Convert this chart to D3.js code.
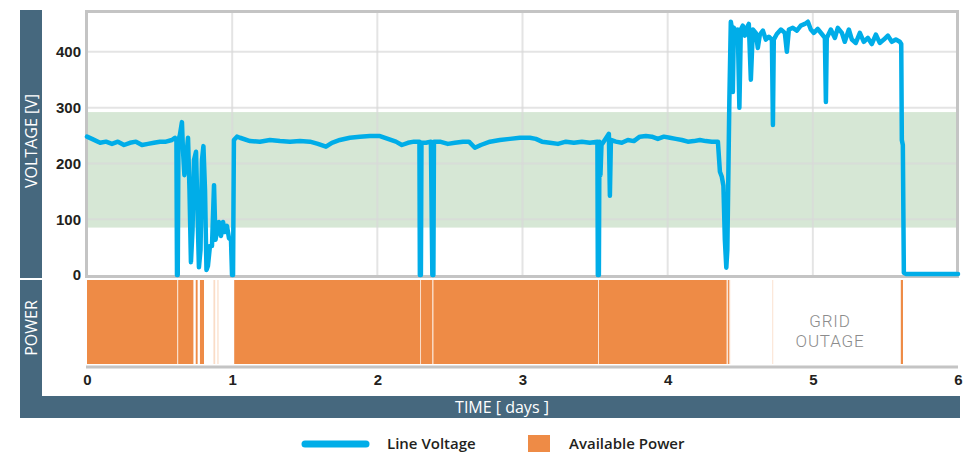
<!DOCTYPE html>
<head>
<meta charset="utf-8">
<script src="https://d3js.org/d3.v7.min.js"></script>
<style>
body { margin:0; background:#fff; }
svg { font-family:'Open Sans', sans-serif; }
.axis text { font-size:15px; font-weight:600; fill:#231f20; }
.axis path, .axis line { display:none; }
.band-label { fill:#fff; font-size:16px; }
.legend text { font-size:15px; font-weight:600; fill:#231f20; }
</style>
</head>
<body>
<div id="chart"></div>
<script>
// line voltage readings, [day, volts]
var voltageReadings = [
  [0,248],[0.034,244],[0.090,237],[0.131,239],[0.172,235],[0.213,239],[0.255,233],[0.296,237],
  [0.337,239],[0.379,233],[0.420,235],[0.461,237],[0.503,239],[0.544,239],[0.585,242],[0.606,246],
  [0.616,240],[0.620,0],[0.625,0],[0.630,242],[0.640,251],[0.654,274],[0.661,224],[0.671,179],
  [0.682,206],[0.696,246],[0.706,152],[0.716,23],[0.727,81],[0.737,206],[0.751,221],[0.761,117],
  [0.771,14],[0.782,45],[0.792,206],[0.802,231],[0.813,152],[0.823,9],[0.833,16],[0.847,52],
  [0.861,52],[0.875,161],[0.885,63],[0.895,77],[0.909,95],[0.923,70],[0.937,95],[0.950,77],
  [0.964,88],[0.978,66],[0.992,63],[0.999,0],[1.006,0],[1.012,242],[1.033,248],
  [1.054,246],[1.123,240],[1.191,239],[1.260,242],[1.329,240],[1.398,239],[1.467,240],[1.536,239],
  [1.591,235],[1.646,230],[1.687,237],[1.742,242],[1.811,246],[1.880,248],[1.949,249],[2.018,249],
  [2.073,244],[2.128,239],[2.169,233],[2.211,237],[2.252,239],[2.290,239],[2.293,0],[2.300,0],
  [2.304,237],[2.335,237],[2.369,239],[2.379,0],[2.386,0],[2.390,239],[2.431,239],[2.486,235],
  [2.534,237],[2.590,239],[2.631,239],[2.672,228],[2.713,233],[2.776,239],[2.844,242],[2.913,244],
  [2.982,246],[3.051,246],[3.092,244],[3.134,239],[3.189,237],[3.244,235],[3.299,239],[3.354,237],
  [3.409,239],[3.464,237],[3.516,239],[3.519,0],[3.526,0],[3.530,239],[3.537,179],[3.544,233],
  [3.567,242],[3.595,253],[3.602,142],[3.609,242],[3.643,239],[3.684,237],[3.726,242],[3.767,240],
  [3.808,248],[3.850,249],[3.891,248],[3.932,244],[3.974,248],[4.015,246],[4.056,244],[4.098,242],
  [4.139,239],[4.180,240],[4.222,242],[4.263,240],[4.304,239],[4.346,239],[4.360,185],[4.373,176],
  [4.384,160],[4.394,63],[4.404,13],[4.411,45],[4.418,179],[4.425,314],[4.435,454],[4.442,443],
  [4.449,328],[4.456,443],[4.470,436],[4.483,440],[4.494,300],[4.504,440],[4.518,447],[4.532,429],
  [4.545,443],[4.559,450],[4.573,350],[4.587,440],[4.607,434],[4.621,407],[4.635,431],[4.656,438],
  [4.676,422],[4.697,427],[4.718,422],[4.725,269],[4.731,422],[4.752,432],[4.780,440],[4.807,434],
  [4.821,400],[4.835,440],[4.862,443],[4.890,438],[4.917,447],[4.945,450],[4.966,454],[4.986,440],
  [5.007,434],[5.034,441],[5.062,432],[5.083,425],[5.090,310],[5.096,425],[5.124,440],[5.152,425],
  [5.172,443],[5.200,434],[5.220,418],[5.248,440],[5.269,422],[5.296,416],[5.324,434],[5.351,418],
  [5.379,425],[5.406,414],[5.434,431],[5.461,416],[5.489,422],[5.517,429],[5.544,418],[5.572,422],
  [5.599,418],[5.609,414],[5.613,242],[5.620,233],[5.627,4],[5.640,2],[6.0,2]
];

// available power intervals [start day, end day, level]
var powerIntervals = [
  [0,0.622,1],[0.628,0.733,1],[0.749,0.762,1],[0.778,0.806,1],
  [0.871,0.883,0.3],[0.898,0.906,0.3],
  [1.014,2.296,1],[2.301,2.379,1],[2.386,3.521,1],[3.526,4.406,1],
  [4.408,4.414,0.3],[4.416,4.424,1],[4.425,4.431,0.3],[4.721,4.727,0.3],[5.606,5.621,1]
];

var acceptableRange = [85, 292];
var voltTicks = [0, 100, 200, 300, 400];
var dayTicks = [0, 1, 2, 3, 4, 5, 6];
var outageLabel = ["GRID", "OUTAGE"];

var W = 968, H = 452;
var svg = d3.select("#chart").append("svg").attr("width", W).attr("height", H);

var x = d3.scaleLinear().domain([0, 6]).range([87, 958]);
var y = d3.scaleLinear().domain([0, 475]).range([275, 10]);
var powerTop = 280, powerBottom = 364;

// side and bottom bands
svg.append("rect").attr("x", 20).attr("y", 10).attr("width", 22).attr("height", 268).attr("fill", "#46687e");
svg.append("rect").attr("x", 20).attr("y", 280).attr("width", 22).attr("height", 138).attr("fill", "#46687e");
svg.append("rect").attr("x", 20).attr("y", 396).attr("width", 940).attr("height", 22).attr("fill", "#46687e");

svg.append("text").attr("class", "band-label")
  .attr("transform", "translate(37,141) rotate(-90)")
  .attr("text-anchor", "middle").text("VOLTAGE [V]");
svg.append("text").attr("class", "band-label")
  .attr("transform", "translate(37,328) rotate(-90)")
  .attr("text-anchor", "middle").text("POWER");
svg.append("text").attr("class", "band-label")
  .attr("x", 502).attr("y", 413).attr("text-anchor", "middle").text("TIME [ days ]");

// acceptable voltage band
svg.append("rect")
  .attr("x", x(0)).attr("width", x(6) - x(0))
  .attr("y", y(acceptableRange[1])).attr("height", y(acceptableRange[0]) - y(acceptableRange[1]))
  .attr("fill", "#d6e7d5");

// gridlines
svg.append("g").selectAll("line").data(voltTicks.slice(1)).enter().append("line")
  .attr("x1", x(0)).attr("x2", x(6))
  .attr("y1", function(d){ return y(d); }).attr("y2", function(d){ return y(d); })
  .attr("stroke", "#d8d8d8").attr("stroke-opacity", 0.7).attr("stroke-width", 2);
svg.append("g").selectAll("line").data(dayTicks.slice(1, 6)).enter().append("line")
  .attr("y1", y(475)).attr("y2", y(0))
  .attr("x1", function(d){ return x(d); }).attr("x2", function(d){ return x(d); })
  .attr("stroke", "#d8d8d8").attr("stroke-opacity", 0.7).attr("stroke-width", 2);

// frame of the voltage panel
svg.append("rect")
  .attr("x", x(0) - 0.5).attr("y", y(475) + 1.5)
  .attr("width", x(6) - x(0)).attr("height", y(0) - y(475))
  .attr("fill", "none").attr("stroke", "#c4c4c4").attr("stroke-width", 3);

// power bars
svg.append("g").selectAll("rect").data(powerIntervals).enter().append("rect")
  .attr("x", function(d){ return x(d[0]); })
  .attr("width", function(d){ return x(d[1]) - x(d[0]); })
  .attr("y", powerTop).attr("height", powerBottom - powerTop)
  .attr("fill", "#ee8b46")
  .attr("fill-opacity", function(d){ return d[2]; });

svg.append("line")
  .attr("x1", x(0) - 1).attr("x2", x(6)).attr("y1", 367).attr("y2", 367)
  .attr("stroke", "#c4c4c4").attr("stroke-width", 3);

svg.append("g").selectAll("text").data(outageLabel).enter().append("text")
  .attr("x", 830)
  .attr("y", function(d, i){ return 327 + i * 20; })
  .attr("text-anchor", "middle")
  .attr("font-family", "Roboto, sans-serif")
  .attr("font-weight", 300)
  .attr("letter-spacing", "0.8px")
  .attr("fill", "#8c8c8c").attr("font-size", "17px")
  .text(function(d){ return d; });

// voltage line
var line = d3.line()
  .x(function(d){ return x(d[0]); })
  .y(function(d){ return y(d[1]); });

svg.append("path").datum(voltageReadings)
  .attr("d", line)
  .attr("fill", "none")
  .attr("stroke", "#00ade8")
  .attr("stroke-width", 4.5)
  .attr("stroke-linejoin", "round")
  .attr("stroke-linecap", "round");

// axes
svg.append("g").attr("class", "axis")
  .attr("transform", "translate(" + (x(0) - 6) + ",0)")
  .call(d3.axisLeft(y).tickValues(voltTicks).tickSize(0).tickPadding(0));

svg.append("g").attr("class", "axis")
  .attr("transform", "translate(0,374)")
  .call(d3.axisBottom(x).tickValues(dayTicks).tickSize(0).tickPadding(0).tickFormat(d3.format("d")));

// legend
var legend = svg.append("g").attr("class", "legend");
legend.append("line")
  .attr("x1", 305).attr("x2", 366).attr("y1", 444).attr("y2", 444)
  .attr("stroke", "#00ade8").attr("stroke-width", 7).attr("stroke-linecap", "round");
legend.append("text").attr("x", 387).attr("y", 449).text("Line Voltage");
legend.append("rect")
  .attr("x", 528).attr("y", 435).attr("width", 22).attr("height", 22).attr("fill", "#ee8b46");
legend.append("text").attr("x", 569).attr("y", 449).text("Available Power");
</script>
</body>
